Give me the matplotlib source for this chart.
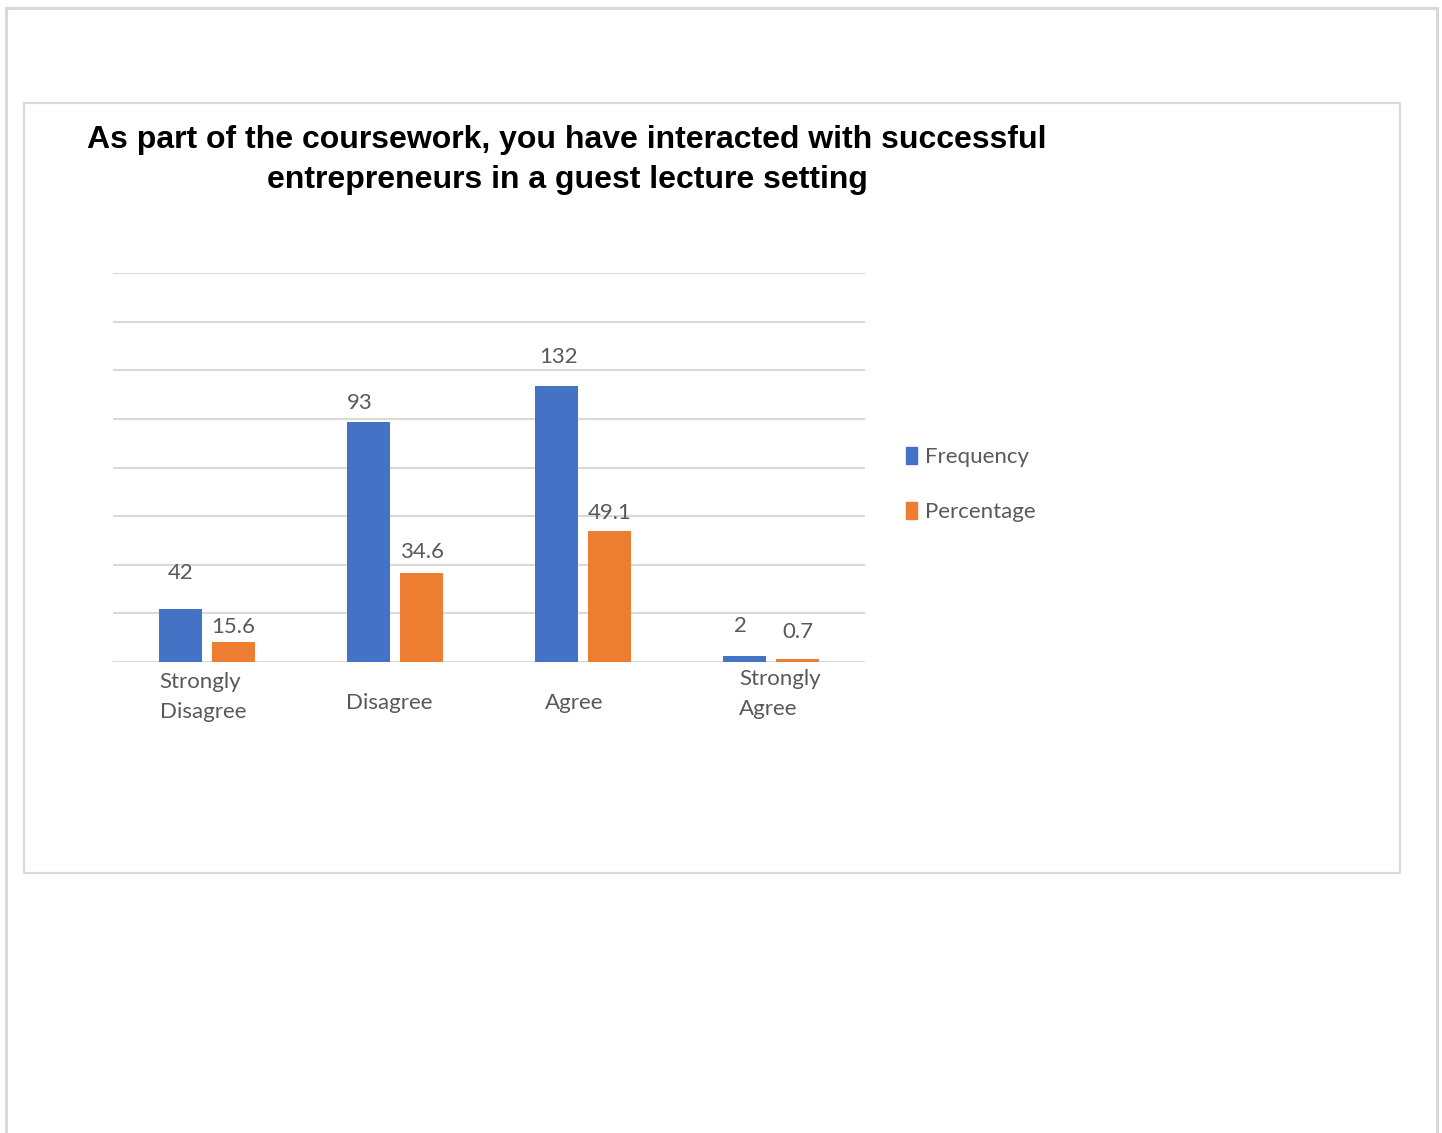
import matplotlib
matplotlib.use("Agg")
import matplotlib.pyplot as plt
import matplotlib.transforms as mtransforms
from matplotlib.lines import Line2D
from matplotlib.patches import Patch
import numpy as np

W, H = 1442, 1133

categories = ["Strongly\nDisagree", "Disagree", "Agree", "Strongly\nAgree"]
# bar heights as drawn (axis units, gridline step = 20)
freq_heights = [21.8, 98.8, 113.6, 2.5]
pct_heights = [8.2, 36.6, 53.9, 1.2]
# data labels printed on the chart
freq_labels = ["42", "93", "132", "2"]
pct_labels = ["15.6", "34.6", "49.1", "0.7"]

# label offsets above bar tops (pixels)
freq_dy = [36, 19, 29, 30]
freq_dx = [0, -9, 2, -4]
pct_dy = [15, 21, 18, 27]
# small nudges of the category labels (pixels, right/up)
tick_dx = [-4, -6, -9, 9]
tick_dy = [0, -6, -6, 3]

BLUE = "#4472C4"
ORANGE = "#ED7D31"
GRID = "#d9d9d9"
TXT = "#595959"
LABEL_FONT = ["Lato", "DejaVu Sans"]


def px(x, y):
    """pixel coords (top-left origin) -> figure fraction"""
    return x / W, 1 - y / H


fig = plt.figure(figsize=(W / 100, H / 100), dpi=100)

# page borders
fig.add_artist(Line2D([6 / W, 6 / W], [0, 1 - 8 / H], color="#d9d9d9", lw=2.2, transform=fig.transFigure))
fig.add_artist(Line2D([6 / W, 1437 / W], [1 - 8 / H, 1 - 8 / H], color="#d9d9d9", lw=2.2, transform=fig.transFigure))
fig.add_artist(Line2D([1437 / W, 1437 / W], [0, 1 - 8 / H], color="#d9d9d9", lw=2.2, transform=fig.transFigure))
# chart box
bx = [24, 1400, 1400, 24, 24]
by = [103, 103, 873, 873, 103]
fig.add_artist(Line2D([v / W for v in bx], [1 - v / H for v in by], color="#d9d9d9", lw=1.6,
                      transform=fig.transFigure))

# title
fig.text(567 / W, 1 - 160 / H,
         "As part of the coursework, you have interacted with successful\nentrepreneurs in a guest lecture setting",
         ha="center", va="center", fontsize=23, fontweight="bold", family="Liberation Sans",
         linespacing=1.43)

ax = fig.add_axes([113 / W, 1 - 662 / H, 752 / W, (662 - 273) / H])
x = np.arange(len(categories))
w = 0.23
off = 0.142
b1 = ax.bar(x - off, freq_heights, w, color=BLUE, zorder=3)
b2 = ax.bar(x + off, pct_heights, w, color=ORANGE, zorder=3)

ax.set_xlim(-0.5, 3.5)
ax.set_ylim(0, 160)
ax.set_yticks(np.arange(0, 161, 20))
ax.yaxis.grid(True, color=GRID, lw=1.5, zorder=0)
ax.tick_params(axis="y", left=False, labelleft=False)
for s in ax.spines.values():
    s.set_visible(False)

ax.set_xticks(x)
ax.set_xticklabels(categories, fontsize=16, color=TXT, family=LABEL_FONT, linespacing=1.65)
ax.tick_params(axis="x", length=0, pad=25)
for lab, dx, dy in zip(ax.get_xticklabels(), tick_dx, tick_dy):
    lab.set_va("center")
    lab.set_multialignment("left")
    lab.set_transform(lab.get_transform() + mtransforms.ScaledTranslation(dx / 100, dy / 100, fig.dpi_scale_trans))

for rect, lab, dy, dx in zip(b1, freq_labels, freq_dy, freq_dx):
    ax.annotate(lab, (rect.get_x() + rect.get_width() / 2, rect.get_height()),
                xytext=(dx * 0.72, dy * 0.72), textcoords="offset points",
                ha="center", va="center", fontsize=16, color=TXT, family=LABEL_FONT)
for rect, lab, dy in zip(b2, pct_labels, pct_dy):
    ax.annotate(lab, (rect.get_x() + rect.get_width() / 2, rect.get_height()),
                xytext=(0, dy * 0.72), textcoords="offset points",
                ha="center", va="center", fontsize=16, color=TXT, family=LABEL_FONT)

handles = [Patch(color=BLUE), Patch(color=ORANGE)]
fig.legend(handles, ["Frequency", "Percentage"], loc="upper left",
           bbox_to_anchor=px(886, 427), frameon=False, prop={"family": LABEL_FONT, "size": 16},
           labelcolor=TXT, handlelength=0.5, handleheight=0.8, handletextpad=0.35, labelspacing=1.55)

fig.savefig("out.png", dpi=100)
